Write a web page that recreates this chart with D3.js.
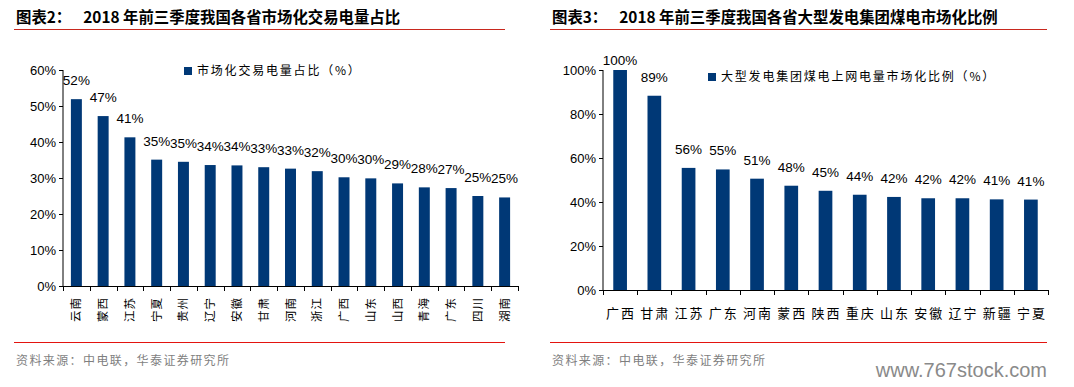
<!DOCTYPE html>
<html>
<head>
<meta charset="utf-8">
<script src="https://cdn.jsdelivr.net/npm/d3@7"></script>
<style>
  body { margin: 0; background: #fff; }
  svg { display: block; }
  text { font-family: "Liberation Sans", Arial, "Noto Sans CJK SC", sans-serif; }
  .cjk { font-family: "Noto Sans CJK SC", sans-serif; }
</style>
</head>
<body>
<svg id="chart" width="1074" height="387"></svg>
<script>
// chart 2: share of market-traded power by province
var leftProvinces = ['云南','蒙西','江苏','宁夏','贵州','辽宁','安徽','甘肃','河南','浙江','广西','山东','山西','青海','广东','四川','湖南'];
var leftValues = [51.9, 47.2, 41.3, 35.1, 34.5, 33.6, 33.5, 33.0, 32.6, 31.9, 30.2, 29.9, 28.5, 27.4, 27.2, 25.0, 24.6];
var leftLabels = ['52%','47%','41%','35%','35%','34%','34%','33%','33%','32%','30%','30%','29%','28%','27%','25%','25%'];
var leftTicks = [0, 10, 20, 30, 40, 50, 60];

// chart 3: coal power marketisation of large generation groups
var rightProvinces = ['广西','甘肃','江苏','广东','河南','蒙西','陕西','重庆','山东','安徽','辽宁','新疆','宁夏'];
var rightValues = [100, 88.3, 55.5, 54.8, 50.6, 47.4, 45.1, 43.3, 42.3, 41.7, 41.7, 41.2, 41.1];
var rightLabels = ['100%','89%','56%','55%','51%','48%','45%','44%','42%','42%','42%','41%','41%'];
var rightTicks = [0, 20, 40, 60, 80, 100];

var barColor = '#003876';
var svg = d3.select('#chart');

function drawFrame(x0, x1, title1, title2, x) {
  var g = svg.append('g');
  var t = g.append('text')
    .attr('x', x).attr('y', 23)
    .attr('font-size', 15.4).attr('font-weight', 'bold')
    .attr('class', 'cjk');
  t.append('tspan').text(title1);
  t.append('tspan').attr('dx', 12).text(title2);
  g.append('line').attr('x1', x0).attr('x2', x1).attr('y1', 29.5).attr('y2', 29.5)
    .attr('stroke', '#c8281e').attr('stroke-width', 1.2);
  g.append('line').attr('x1', x0).attr('x2', x1).attr('y1', 342.5).attr('y2', 342.5)
    .attr('stroke', '#e3140f').attr('stroke-width', 1.2);
  g.append('text').attr('class', 'cjk')
    .attr('x', x).attr('y', 365)
    .attr('font-size', 12).attr('letter-spacing', 1.4)
    .attr('fill', '#7f7f7f')
    .text('资料来源：中电联，华泰证券研究所');
}

function drawBars(opt) {
  var x = d3.scaleBand().domain(opt.cats).range([opt.left, opt.right]).paddingInner(opt.pad).paddingOuter(opt.pad / 2);
  var y = d3.scaleLinear().domain([0, opt.max]).range([opt.bottom, opt.top]);
  var g = svg.append('g');

  // y axis
  var ya = g.append('g').attr('transform', 'translate(' + opt.left + ',0)')
    .call(d3.axisLeft(y).tickValues(opt.ticks).tickSize(4).tickPadding(3).tickFormat(function (d) { return d + '%'; }));
  ya.select('.domain').attr('stroke', '#000').attr('d', 'M0,' + opt.top + 'V' + opt.bottom);
  ya.selectAll('.tick line').attr('stroke', '#000');
  ya.selectAll('.tick text').attr('font-size', 13).attr('fill', '#000')
    .attr('font-family', '"Liberation Sans", Arial, sans-serif');

  // bars
  g.selectAll('rect.bar').data(opt.values).enter().append('rect')
    .attr('x', function (d, i) { return x(opt.cats[i]); })
    .attr('width', x.bandwidth())
    .attr('y', function (d) { return y(d); })
    .attr('height', function (d) { return y(0) - y(d); })
    .attr('fill', barColor);

  // value labels
  g.selectAll('text.val').data(opt.values).enter().append('text')
    .attr('x', function (d, i) { return x(opt.cats[i]) + x.bandwidth() / 2 + (opt.labelDx || 0); })
    .attr('y', function (d) { return Math.max(y(d) - 14, opt.top - 5); })
    .attr('text-anchor', 'middle')
    .attr('font-size', 13.5)
    .text(function (d, i) { return opt.labels[i]; });

  // x axis
  var step = x.step();
  g.append('line').attr('x1', opt.left).attr('x2', opt.right)
    .attr('y1', opt.bottom + 0.5).attr('y2', opt.bottom + 0.5).attr('stroke', '#000');
  var bounds = d3.range(opt.cats.length + 1).map(function (i) { return opt.left + i * step; });
  g.selectAll('line.xt').data(bounds).enter().append('line')
    .attr('x1', function (d) { return Math.round(d) + 0.5; })
    .attr('x2', function (d) { return Math.round(d) + 0.5; })
    .attr('y1', opt.bottom).attr('y2', opt.bottom + 5).attr('stroke', '#000');

  // category labels
  var cl = g.selectAll('text.cat').data(opt.cats).enter().append('text')
    .attr('class', 'cjk')
    .attr('fill', '#000')
    .text(function (d) { return d; });
  if (opt.vertical) {
    cl.attr('font-size', 11.5).attr('letter-spacing', 1)
      .attr('text-anchor', 'end')
      .attr('transform', function (d) { return 'translate(' + (x(d) + x.bandwidth() / 2 + 4) + ',' + (opt.bottom + 11) + ')rotate(-90)'; });
  } else {
    cl.attr('font-size', 13).attr('letter-spacing', 2)
      .attr('text-anchor', 'middle')
      .attr('x', function (d) { return x(d) + x.bandwidth() / 2 + 1; })
      .attr('y', opt.bottom + 28);
  }

  // legend
  g.append('rect').attr('x', opt.legX).attr('y', opt.legY - 4).attr('width', 8).attr('height', 8).attr('fill', barColor);
  g.append('text').attr('class', 'cjk')
    .attr('x', opt.legX + 13).attr('y', opt.legY + 4)
    .attr('font-size', 12).attr('letter-spacing', opt.legSpacing)
    .text(opt.legend);
}

drawFrame(14, 505, '图表2：', '2018 年前三季度我国各省市场化交易电量占比', 16);
drawFrame(550, 1047, '图表3：', '2018 年前三季度我国各省大型发电集团煤电市场化比例', 552);

drawBars({
  cats: leftProvinces, values: leftValues, labels: leftLabels, ticks: leftTicks,
  left: 63, right: 518, top: 70, bottom: 286, max: 60, pad: 0.59,
  vertical: true, legX: 184, legY: 71, legSpacing: 1.8, legend: '市场化交易电量占比（%）'
});

drawBars({
  cats: rightProvinces, values: rightValues, labels: rightLabels, ticks: rightTicks,
  left: 603, right: 1048, top: 70, bottom: 290, max: 100, pad: 0.6,
  vertical: false, legX: 708, legY: 77, legSpacing: 1.8, legend: '大型发电集团煤电上网电量市场化比例（%）'
});

svg.append('text')
  .attr('x', 1047).attr('y', 377)
  .attr('text-anchor', 'end')
  .attr('font-size', 20)
  .attr('font-family', '"DejaVu Sans", sans-serif')
  .attr('fill', '#8a8a8a')
  .text('www.767stock.com');
</script>
</body>
</html>
